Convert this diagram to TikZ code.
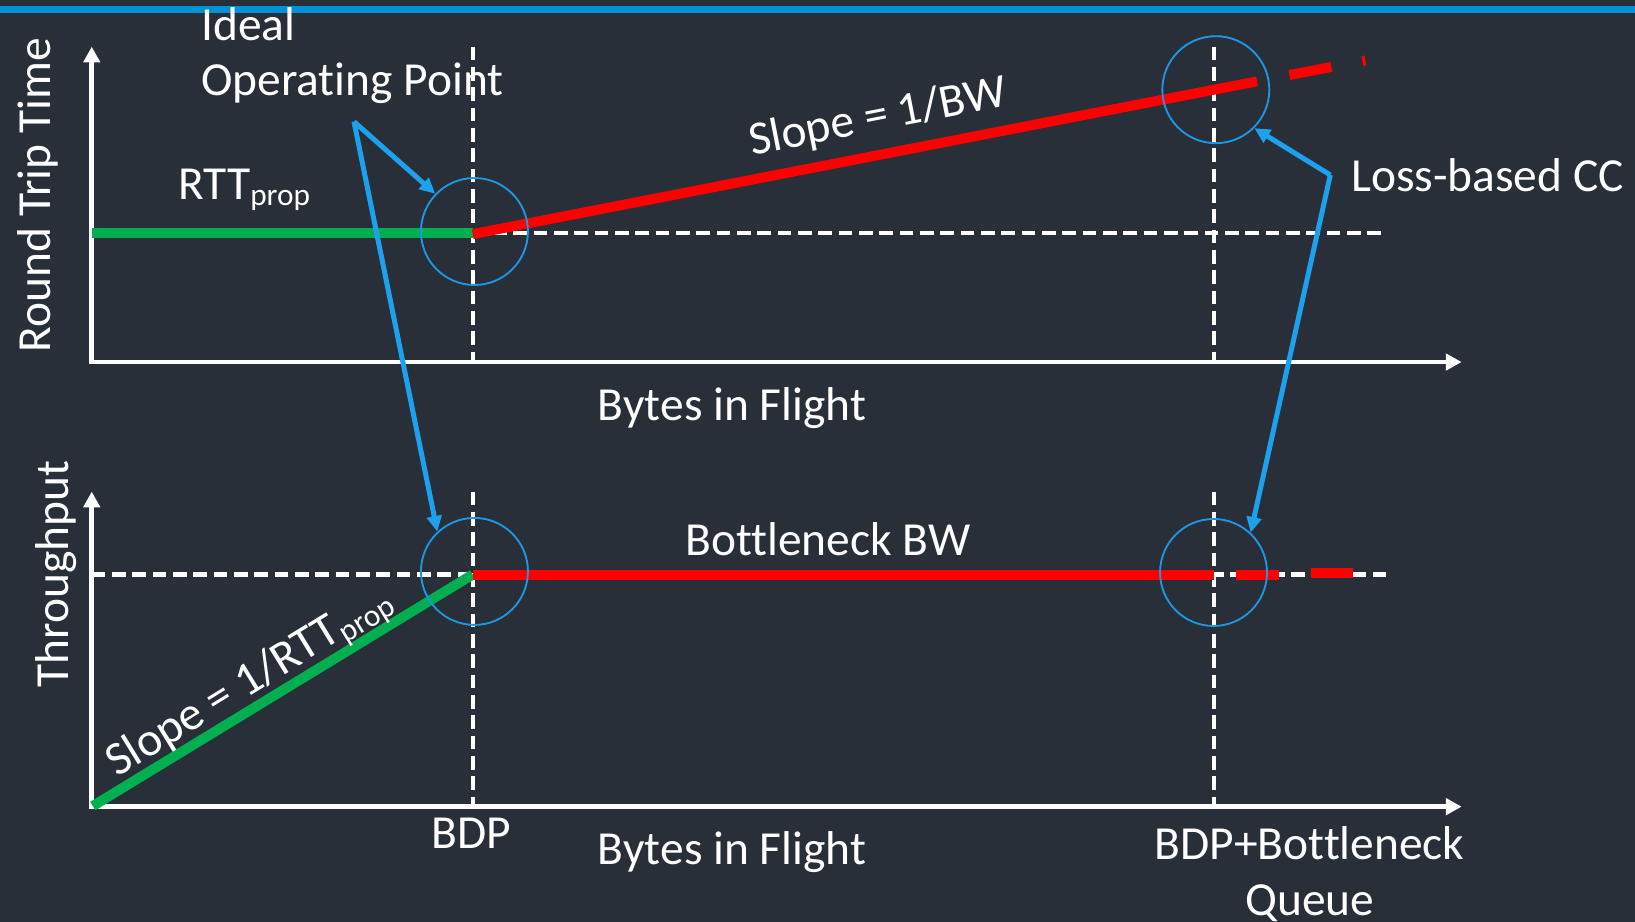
\documentclass[tikz,border=0pt]{standalone}
\usepackage{fontspec}
\setmainfont{Carlito}[Ligatures=NoCommon]
\usetikzlibrary{arrows.meta}
\definecolor{bg}{RGB}{40,47,56}
\definecolor{topbar}{RGB}{0,146,214}
\definecolor{grn}{RGB}{0,176,80}
\definecolor{ptr}{RGB}{29,161,236}
\definecolor{ringc}{RGB}{30,150,225}
\newcommand\subs[1]{\raisebox{-6pt}{\fontsize{30}{30}\selectfont #1}}
\begin{document}
\begin{tikzpicture}[x=1pt,y=-1pt,
  every node/.style={text=white, font=\fontsize{45.5}{53}\selectfont, inner sep=0pt},
  axis/.style={draw=white, line width=4.5pt, -{Triangle[length=15pt,width=15.5pt]}},
  guide/.style={draw=white, line width=4pt, dash pattern=on 13pt off 6.5pt},
  rline/.style={draw=red, line width=9.5pt},
  gline/.style={draw=grn, line width=9.5pt},
  ringnode/.style={circle, draw=ringc, line width=1.8pt, minimum size=102.6pt},
  pointer/.style={draw=ptr, line width=4.8pt, -{Triangle[length=15pt,width=14pt]}},
]
\useasboundingbox (0,0) rectangle (1568,884);
\fill[bg] (0,0) rectangle (1568,884);
\fill[topbar] (0,5.8) rectangle (1568,12.7);

% ---- coordinates
\coordinate (o1) at (88,347.2);
\coordinate (y1) at (88,44.8);
\coordinate (x1) at (1401.7,347.2);
\coordinate (o2) at (88,773.6);
\coordinate (y2) at (88,471.5);
\coordinate (x2) at (1401.7,773.6);

% ---- guides
\draw[guide] (453.3,44.8) -- (453.3,347.2);
\draw[guide] (1164.6,44.8) -- (1164.6,347.2);
\draw[guide] (453.3,223.8) -- (1330,223.8);
\draw[guide] (453.3,471.5) -- (453.3,773.6);
\draw[guide] (1164.6,471.5) -- (1164.6,773.6);
\draw[guide] (88,551) -- (1330,551);

% ---- axes
\draw[axis] (o1) -- (y1);
\draw[axis] ([xshift=-2.25pt]o1) -- (x1);
\draw[axis] (o2) -- (y2);
\draw[axis] ([xshift=-2.25pt]o2) -- (x2);

% ---- curves
\draw[gline] (88,223.8) -- (453.3,223.8);
\draw[rline] (453.3,224.5) -- (1205.5,78);
\draw[rline] (1236.6,72) -- (1276.8,64.2);
\draw[rline] (1306.5,58.5) -- (1309.5,57.9);
\draw[gline] (89,773) -- (453.3,551);
\draw[rline] (453.3,551) -- (1164.6,551);
\draw[rline] (1185.8,551) -- (1226.6,551);
\draw[rline] (1257,549.5) -- (1297.8,549.5);

% ---- rings
\node[ringnode] (c1) at (455,222) {};
\node[ringnode] (c2) at (1166,86) {};
\node[ringnode] (c3) at (455,548) {};
\node[ringnode] (c4) at (1163.8,549) {};

% ---- labels
\node[anchor=base west, align=left] (ideal) at (192.7,92) {Ideal\\Operating Point};
\node[anchor=base west] (rtt) at (170.6,191) {RTT\subs{prop}};
\node[rotate=11.1] (slope1) at (842,113) {Slope = 1/BW};
\node[rotate=31.6] (slope2) at (240,655) {Slope = 1/RTT\subs{prop}};
\node[anchor=base] (bif1) at (702,403) {Bytes in Flight};
\node[anchor=base] (bif2) at (702,829) {Bytes in Flight};
\node[anchor=base west] (loss) at (1295.5,183.8) {Loss-based CC};
\node[anchor=base] (bbw) at (794,533) {Bottleneck BW};
\node[anchor=base] (bdp) at (452,813.6) {BDP};
\node[anchor=base, align=center] (bdpq) at (1256,877.5) {BDP+Bottleneck\\Queue};
\node[anchor=base, rotate=90] (ylab1) at (48,187) {Round Trip Time};
\node[anchor=base, rotate=90] (ylab2) at (66,550.7) {Throughput};

% ---- pointers
\coordinate (ifork) at (339.5,116.7);
\coordinate (lfork) at (1275.8,167.8);
\draw[pointer] (ifork) -- (c1.136);
\draw[pointer] (ifork) -- (c3.133);
\draw[pointer] (lfork) -- (c2.-45);
\draw[pointer] (lfork) -- (c4.47);
\end{tikzpicture}
\end{document}
